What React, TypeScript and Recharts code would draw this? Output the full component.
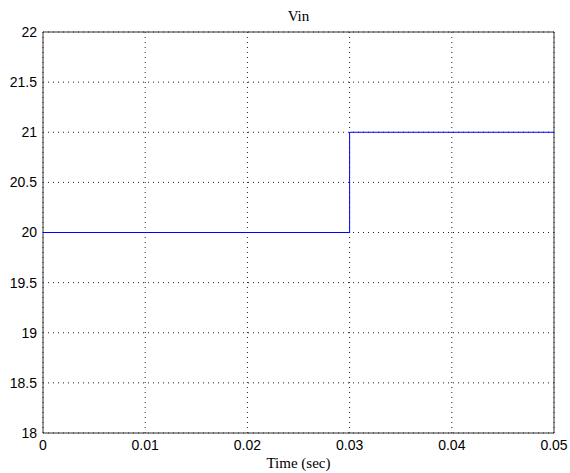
import React from 'react';
import { LineChart, Line, XAxis, YAxis, CartesianGrid, ReferenceArea } from 'recharts';

// Step response of the input voltage
const times = [0, 0.03, 0.03, 0.05];
const vin = [20, 20, 21, 21];
const xTicks = [0, 0.01, 0.02, 0.03, 0.04, 0.05];
const yTicks = [18, 18.5, 19, 19.5, 20, 20.5, 21, 21.5, 22];

const data = times.map((t, i) => ({ t, v: vin[i] }));

const tickStyle = { fill: '#000', fontSize: 14, fontFamily: 'Liberation Sans, Arial, sans-serif' };

const App: React.FC = () => {
  return (
    <div style={{ position: 'absolute', left: 0, top: 0, width: 570, height: 473, background: '#fff' }}>
      <div
        style={{
          position: 'absolute', left: 43, width: 511, top: 8, textAlign: 'center',
          fontFamily: 'Liberation Serif, serif', fontSize: 15, color: '#000',
        }}
      >
        Vin
      </div>
      <LineChart width={570} height={473} data={data} margin={{ top: 32, right: 16, bottom: 0, left: 0 }}>
        <CartesianGrid stroke="#222" strokeDasharray="1 4" horizontalValues={yTicks} verticalValues={xTicks} />
        <XAxis
          dataKey="t"
          type="number"
          domain={[0, 0.05]}
          ticks={xTicks}
          tickFormatter={(v: number) => String(Number(v.toFixed(2)))}
          height={40}
          tickSize={0}
          tickMargin={7}
          axisLine={false}
          tick={tickStyle}
          interval={0}
        />
        <YAxis
          type="number"
          domain={[18, 22]}
          ticks={yTicks}
          width={43}
          tickSize={0}
          tickMargin={6}
          axisLine={false}
          tick={tickStyle}
          interval={0}
        />
        <ReferenceArea x1={0} x2={0.05} y1={18} y2={22} fill="none" stroke="#333" strokeWidth={1} ifOverflow="visible" />
        <Line type="linear" dataKey="v" stroke="#0000ff" strokeWidth={1} dot={false} isAnimationActive={false} />
      </LineChart>
      <div
        style={{
          position: 'absolute', left: 43, width: 511, top: 455, textAlign: 'center',
          fontFamily: 'Liberation Serif, serif', fontSize: 15, color: '#000',
        }}
      >
        Time (sec)
      </div>
    </div>
  );
};

export default App;
